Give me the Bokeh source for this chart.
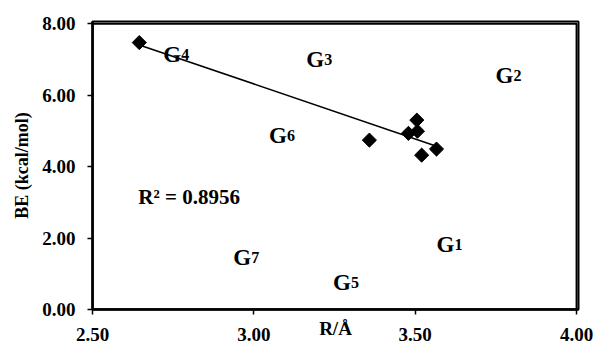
import numpy as np
from bokeh.plotting import figure
from bokeh.models import Range1d, FixedTicker, Label, NumeralTickFormatter
from bokeh.embed import file_html
from bokeh.resources import INLINE

# data points (R in Å, BE in kcal/mol)
r_vals = [2.645, 3.358, 3.505, 3.507, 3.479, 3.520, 3.566]
be_vals = [7.47, 4.74, 5.30, 4.99, 4.93, 4.32, 4.49]

x_ticks = [2.50, 3.00, 3.50, 4.00]
y_ticks = [0, 2, 4, 6, 8]

# structure labels G1..G7 (annotation positions)
g_names = ["1", "2", "3", "4", "5", "6", "7"]
g_x = [3.566, 3.749, 3.162, 2.719, 3.245, 3.047, 2.936]
g_y = [1.82, 6.55, 7.01, 7.15, 0.76, 4.88, 1.45]

r2_text = "R² = 0.8956"
r2_x, r2_y = 2.642, 3.14

FONT = "Liberation Serif"

x_lo, x_hi = x_ticks[0], x_ticks[-1]
y_lo, y_hi = y_ticks[0], y_ticks[-1]

p = figure(width=600, height=345, output_backend="svg", toolbar_location=None,
           x_range=Range1d(x_lo, x_hi + 0.006), y_range=Range1d(y_lo, y_hi + 0.06),
           min_border_left=92, min_border_right=22, min_border_top=21,
           min_border_bottom=36)
p.background_fill_color = "white"
p.border_fill_color = "white"
p.outline_line_color = "black"
p.outline_line_width = 2
p.outline_line_alpha = 1.0
p.grid.visible = False

for ax in (p.xaxis[0], p.yaxis[0]):
    ax.axis_line_width = 2.5
    ax.axis_line_color = "black"
    ax.major_tick_line_width = 1.5
    ax.major_tick_in = 0
    ax.major_tick_out = 5
    ax.minor_tick_line_color = None
    ax.major_label_text_font = FONT
    ax.major_label_text_font_style = "bold"
    ax.major_label_text_font_size = "19px"
    ax.major_label_text_color = "black"
    ax.formatter = NumeralTickFormatter(format="0.00")

p.xaxis.ticker = FixedTicker(ticks=x_ticks)
p.yaxis.ticker = FixedTicker(ticks=y_ticks)
p.xaxis.major_label_standoff = 13
p.yaxis.major_label_standoff = 12

p.yaxis.axis_label = "BE (kcal/mol)"
p.yaxis.axis_label_text_font = FONT
p.yaxis.axis_label_text_font_style = "bold"
p.yaxis.axis_label_text_font_size = "18px"
p.yaxis.axis_label_text_color = "black"
p.yaxis.axis_label_standoff = 7

p.xaxis.axis_label = "R/Å"
p.xaxis.axis_label_text_font = FONT
p.xaxis.axis_label_text_font_style = "bold"
p.xaxis.axis_label_text_font_size = "19px"
p.xaxis.axis_label_text_color = "black"
p.xaxis.axis_label_standoff = -26

# plot box drawn as an unfilled quad spanning the axis limits
p.quad(left=[x_lo], right=[x_hi], bottom=[y_lo], top=[y_hi],
       fill_color=None, line_color="black", line_width=2)

# trend line from least-squares fit
slope, intercept = np.polyfit(r_vals, be_vals, 1)
lx = np.array([min(r_vals), max(r_vals)])
p.line(lx, slope * lx + intercept, line_color="black", line_width=1.6)

p.scatter(r_vals, be_vals, marker="square", angle=np.pi / 4, size=10,
          fill_color="black", line_color="black")

for n, gx, gy in zip(g_names, g_x, g_y):
    p.add_layout(Label(x=gx, y=gy, text="G", text_font=FONT, text_font_style="bold",
                       text_font_size="23px", text_baseline="alphabetic", text_color="black"))
    p.add_layout(Label(x=gx, y=gy, x_offset=18, text=n, text_font=FONT,
                       text_font_style="bold", text_font_size="16px",
                       text_baseline="alphabetic", text_color="black"))

p.add_layout(Label(x=r2_x, y=r2_y, text=r2_text, text_font=FONT, text_font_style="bold",
                   text_font_size="21px", text_baseline="alphabetic", text_color="black"))

open("out.html", "w").write(file_html(p, INLINE))
